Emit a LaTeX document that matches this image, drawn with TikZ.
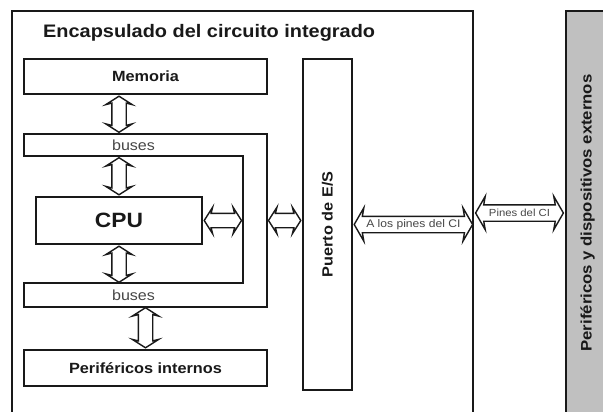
\documentclass[tikz,border=0pt]{standalone}
\usepackage{fontspec}
\setmainfont{Liberation Sans}[FakeStretch=1.1]
\usepackage{tikz}
\usetikzlibrary{shapes.arrows,calc}
\definecolor{pingray}{RGB}{192,192,192}
\definecolor{inkgray}{RGB}{25,25,25}
\definecolor{busgray}{RGB}{70,70,70}

\begin{document}
\begin{tikzpicture}[x=1pt, y=-1pt,
    box/.style={draw=inkgray, line width=1.4pt, rectangle, inner sep=0pt, text=inkgray, font=\bfseries\fontsize{14.8}{16}\selectfont},
    fatarrow/.style={double arrow, draw=inkgray, fill=white, line width=1.4pt, inner sep=0pt, inner ysep=6.5pt, double arrow head extend=6pt, double arrow tip angle=115, double arrow head indent=1.5pt},
    widearrow/.style={fatarrow, inner ysep=7.5pt, double arrow head extend=8.5pt, double arrow tip angle=120},
    fat/.style={to path={let \p1=(\tikztostart), \p2=(\tikztotarget), \n1={atan2(\y2-\y1,\x2-\x1)}, \n2={veclen(\x2-\x1,\y2-\y1)} in ($(\p1)!.5!(\p2)$) node[#1, rotate=\n1, minimum height=\n2-3] {} (\tikztostart) -- (\tikztotarget) \tikztonodes}},
    fat/.default=fatarrow,
    pinlabel/.style={midway, inner sep=0pt, text=busgray, font=\fontsize{#1}{12}\selectfont},
    buslabel/.style={text=busgray, inner sep=0pt, minimum width=219, minimum height=22, font=\fontsize{14.6}{16}\selectfont}]
    \useasboundingbox (0,0) rectangle (603,412);

    % Chip package
    \node[box, line width=2.2pt, minimum width=461, minimum height=419] (chip) at (242.5,220.5) {};
    \node[anchor=base west, text=inkgray, inner sep=0pt, font=\bfseries\fontsize{18.1}{20}\selectfont] (title) at (43,37.5) {Encapsulado del circuito integrado};

    % External devices
    \node[box, fill=pingray, line width=2.2pt, rotate=90, minimum width=404, minimum height=43, font=\bfseries\fontsize{15.2}{17}\selectfont] (ext) at (587.5,213) {Periféricos y dispositivos externos};

    % Memory, CPU, internal peripherals
    \node[box, minimum width=243, minimum height=35] (mem) at (145.5,76.5) {Memoria};
    \node[box, minimum width=166, minimum height=47, font=\bfseries\fontsize{20.7}{22}\selectfont] (cpu) at (119,220.5) {CPU};
    \node[box, minimum width=243, minimum height=36] (pint) at (145.5,368) {Periféricos internos};

    % Buses
    \draw[inkgray, line width=1.4pt] (24,134) -- (267,134) -- (267,307) -- (24,307) -- (24,283) -- (243,283) -- (243,156) -- (24,156) -- cycle;
    \coordinate (busin) at (243,220.5);
    \coordinate (busout) at (267,220.5);
    \node[buslabel] (bustop) at (133.5,145) {buses};
    \node[buslabel] (busbot) at (133.5,295) {buses};

    % I/O port
    \node[box, rotate=90, minimum width=331, minimum height=49] (port) at (327.5,224.5) {Puerto de E/S};

    % Bus arrows
    \path (cpu |- mem.south) to[fat] (cpu |- bustop.north);
    \path (cpu |- bustop.south) to[fat] (cpu.north);
    \path (cpu.south) to[fat] (cpu |- busbot.north);
    \path (pint.north |- busbot.south) to[fat] (pint.north);
    \path (cpu.east) to[fat] (cpu.east -| busin);
    \path (busout) to[fat] (busout -| port.north);

    % Pins
    \path (port.south) to[fat=widearrow] node[pinlabel=11] {A los pines del CI} (port.south -| chip.east);
    \path (chip.east |- ext.north) to[fat=widearrow] node[pinlabel=10.3] {Pines del CI} (ext.north);
\end{tikzpicture}
\end{document}
